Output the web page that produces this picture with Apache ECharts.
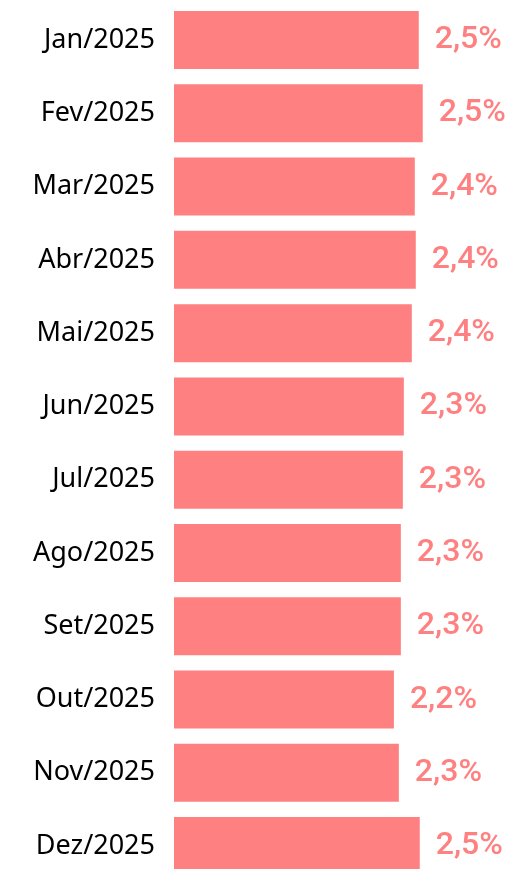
<!DOCTYPE html>
<html>
<head>
<meta charset="utf-8">
<script src="https://cdn.jsdelivr.net/npm/echarts@6/dist/echarts.min.js"></script>
<style>
  html, body { margin: 0; padding: 0; background: #ffffff; overflow: hidden; }
  /* The last row runs past the bottom edge of the page, so the canvas is taller than the view */
  #chart { width: 513px; height: 900px; }
</style>
</head>
<body>
<div id="chart"></div>
<script>
// Monthly rate, 2025 (percent)
const months = ['Jan/2025', 'Fev/2025', 'Mar/2025', 'Abr/2025', 'Mai/2025', 'Jun/2025',
                'Jul/2025', 'Ago/2025', 'Set/2025', 'Out/2025', 'Nov/2025', 'Dez/2025'];
const rates = [2.46, 2.50, 2.42, 2.43, 2.39, 2.31, 2.30, 2.28, 2.28, 2.21, 2.26, 2.47];

const barColor = '#FF8080';

const chart = echarts.init(document.getElementById('chart'), null, { renderer: 'canvas' });

chart.setOption({
  animation: false,
  backgroundColor: '#ffffff',
  grid: {
    left: 174,
    top: 3.4,
    height: 879.3,
    width: 298.5,
    containLabel: false
  },
  xAxis: {
    type: 'value',
    min: 0,
    max: 3,
    show: false
  },
  yAxis: {
    type: 'category',
    data: months,
    inverse: true,
    axisLine: { show: false },
    axisTick: { show: false },
    splitLine: { show: false },
    axisLabel: {
      margin: 19,
      color: '#000000',
      fontFamily: 'Noto Sans',
      fontSize: 27
    }
  },
  series: [{
    type: 'bar',
    data: rates,
    barWidth: 58,
    itemStyle: { color: barColor },
    label: {
      show: true,
      position: 'right',
      distance: 16,
      color: barColor,
      fontFamily: 'Roboto',
      fontWeight: 500,
      fontSize: 32,
      formatter: p => p.value.toFixed(1).replace('.', ',') + '%'
    }
  }]
});
</script>
</body>
</html>
